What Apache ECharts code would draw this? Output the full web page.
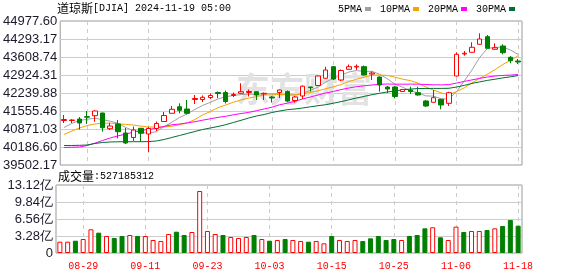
<!DOCTYPE html>
<html>
<head>
<meta charset="utf-8">
<title>道琼斯[DJIA]</title>
<script src="https://cdn.jsdelivr.net/npm/echarts@6/dist/echarts.min.js"></script>
<style>
html, body { margin: 0; padding: 0; background: #fff; }
#chart { width: 578px; height: 276px; }
</style>
</head>
<body>
<div id="chart"></div>
<script>
// 交易日
var dates = [
  '08-26','08-27','08-28','08-29','08-30','09-03','09-04','09-05','09-06','09-09',
  '09-10','09-11','09-12','09-13','09-16','09-17','09-18','09-19','09-20','09-23',
  '09-24','09-25','09-26','09-27','09-30','10-01','10-02','10-03','10-04','10-07',
  '10-08','10-09','10-10','10-11','10-14','10-15','10-16','10-17','10-18','10-21',
  '10-22','10-23','10-24','10-25','10-28','10-29','10-30','10-31','11-01','11-04',
  '11-05','11-06','11-07','11-08','11-11','11-12','11-13','11-14','11-15','11-18'
];

// K线
var opens = [41194,41194,41251,41340,41377,41479,40882,41061,40719,40548,
  40898,40681,40890,41156,41468,41719,41632,41993,41993,42069,
  42259,42259,42145,42229,42259,42289,42202,42088,42259,42297,
  41955,42126,42468,42525,42799,43240,42734,43141,43229,43240,
  42962,42848,42468,42468,42297,42354,42251,41936,41886,42000,
  41848,42886,43723,43787,44092,44381,43902,44027,43597,43457];
var closes = [41232,41213,41099,41320,41555,40920,40985,40768,40339,40833,
  40708,40890,41080,41384,41620,41580,41468,42031,42076,42145,
  42221,41917,42183,42289,42297,42164,42229,42050,42354,41936,
  42088,42500,42441,42886,43114,42772,43095,43240,43255,42924,
  43000,42544,42392,42107,42373,42297,42164,41746,42061,41784,
  42251,43711,43749,43978,44293,43940,43962,43772,43468,43419];
var lows = [41099,41099,40852,41061,41149,40768,40833,40517,40301,40415,
  40388,39997,40795,41149,41460,41468,41430,41822,41898,42012,
  42050,41841,42088,42209,42107,41974,41974,41879,42050,41898,
  41871,42012,42289,42506,42791,42734,42696,43133,43114,42905,
  42734,42289,42240,42038,42278,42202,42145,41708,41879,41620,
  41746,42867,43658,43780,44084,43932,43894,43711,43369,43343];
var highs = [41403,41240,41327,41555,41582,41491,41111,41213,40909,40966,
  40909,40947,41156,41517,41746,41848,41974,42164,42145,42221,
  42297,42335,42259,42609,42373,42297,42259,42126,42373,42335,
  42126,42525,42479,42905,43240,43267,43133,43324,43324,43286,
  43057,42867,42506,42506,42392,42479,42479,41974,42354,42012,
  42289,43787,43837,44168,44510,44445,44130,44092,43647,43533];

// 均线
var ma5 = [40928,41080,41194,41240,41282,41225,41168,41092,40932,40806,
  40746,40711,40772,40959,41126,41308,41441,41616,41768,41886,
  42012,42099,42145,42179,42194,42183,42217,42202,42209,42164,
  42168,42232,42339,42468,42658,42799,42913,43038,43092,43057,
  43065,42951,42784,42571,42457,42324,42244,42130,42122,42019,
  42008,42293,42696,43114,43590,43932,43978,43981,43875,43704];
var ma10 = [40662,40795,40909,41004,41061,41092,41092,41073,41046,41023,
  40978,40947,40943,40955,40974,41031,41099,41232,41403,41536,
  41681,41784,41890,41978,42046,42103,42164,42164,42187,42171,
  42164,42221,42255,42324,42403,42476,42563,42677,42761,42844,
  42917,42924,42909,42841,42765,42711,42613,42468,42350,42244,
  42179,42293,42434,42624,42799,42955,43130,43324,43479,43654];
var ma20 = [40168,40175,40187,40244,40331,40434,40529,40609,40677,40753,
  40818,40852,40905,40970,41031,41061,41103,41149,41206,41259,
  41312,41354,41411,41460,41502,41567,41632,41700,41791,41852,
  41924,42012,42088,42164,42240,42297,42369,42430,42479,42514,
  42544,42571,42582,42575,42575,42578,42575,42563,42552,42548,
  42559,42616,42681,42738,42795,42848,42886,42909,42921,42943];
var ma30 = [40244,40244,40251,40263,40320,40358,40377,40384,40388,40388,
  40388,40392,40415,40472,40548,40624,40700,40776,40852,40909,
  40966,41035,41118,41202,41289,41365,41422,41498,41555,41605,
  41632,41670,41715,41757,41795,41852,41913,41978,42050,42111,
  42175,42229,42278,42320,42362,42388,42411,42411,42415,42415,
  42419,42468,42529,42605,42662,42719,42765,42814,42856,42902];

// 成交量（亿）及涨跌
var volumes = [2.18,2.18,2.37,2.70,4.57,3.92,3.28,2.89,3.28,3.47,
  3.28,3.28,2.51,2.32,3.67,4.11,3.47,4.05,11.96,4.25,
  3.67,3.47,3.09,2.89,3.09,3.47,2.70,2.37,2.51,2.70,
  2.51,2.32,2.18,2.32,1.87,3.28,2.51,2.32,2.51,2.32,
  2.83,3.28,2.51,2.70,2.51,3.28,3.47,4.76,4.96,3.03,
  2.51,5.08,4.05,4.25,4.25,4.44,4.76,5.21,6.37,5.27];
var volUp = [1,1,0,1,1,0,1,0,0,1,0,1,1,1,1,0,0,1,1,1,1,0,1,1,1,0,1,0,1,0,
  1,1,0,1,1,0,1,1,1,0,0,0,0,0,1,0,0,0,1,0,1,1,0,1,1,0,1,0,0,0];

var priceMin = 39502.17, priceMax = 44977.60;
var volMax = 13.12, volStep = 3.28;
var lastVolume = '527185312';

var RED = '#ff0000', GREEN = '#008000';
var mono = '"Liberation Mono", "DejaVu Sans Mono", monospace';
var cjk = '"Noto Sans CJK SC", sans-serif';
var axisFont = '"Liberation Sans", Arial, sans-serif';
var showIdx = function (i) { return (i - 3) % 8 === 0; };

var kData = opens.map(function (o, i) { return [o, closes[i], lows[i], highs[i]]; });
var volData = volumes.map(function (v, i) {
  return {
    value: v,
    itemStyle: volUp[i]
      ? { color: '#fff', borderColor: RED, borderWidth: 1 }
      : { color: GREEN, borderColor: GREEN, borderWidth: 1 }
  };
});

function maLine(name, data, color) {
  return {
    name: name, type: 'line', data: data, symbol: 'none',
    xAxisIndex: 0, yAxisIndex: 0, z: 2,
    lineStyle: { width: 1, color: color }, itemStyle: { color: color }
  };
}

var titleRich = {
  c: { fontFamily: cjk, fontSize: 12, fontWeight: 'normal', color: '#000' },
  a: { fontFamily: mono, fontSize: 10, fontWeight: 'normal', color: '#000' }
};

var chart = echarts.init(document.getElementById('chart'));
chart.setOption({
  animation: false,
  backgroundColor: '#fff',
  title: [
    { text: '{c|道琼斯}{a|[DJIA] 2024-11-19 05:00}', left: 57, top: 2, padding: 0,
      textStyle: { fontWeight: 'normal', rich: titleRich } },
    { text: '{c|成交量}{a|:' + lastVolume + '}', left: 58, top: 170, padding: 0,
      textStyle: { fontWeight: 'normal', rich: titleRich } }
  ],
  legend: {
    data: ['5PMA', '10PMA', '20PMA', '30PMA'],
    left: 338, top: 4, padding: 0,
    align: 'right', icon: 'rect', itemWidth: 6, itemHeight: 4, itemGap: 9,
    selectedMode: false,
    textStyle: { fontFamily: mono, fontSize: 10, color: '#000', padding: [0, -2, 0, 0] }
  },
  graphic: [{
    type: 'text', left: 236, top: 72, z: 1, silent: true,
    style: { text: '东方财富', fill: '#e2e2e2', font: 'bold 34px "Noto Sans CJK SC"' }
  }],
  grid: [
    { left: 56, top: 21, width: 466, height: 144, show: true, borderColor: '#999', borderWidth: 1 },
    { left: 56, top: 185, width: 466, height: 68, show: true, borderColor: '#999', borderWidth: 1 }
  ],
  xAxis: [
    { type: 'category', gridIndex: 0, data: dates, boundaryGap: true,
      axisLine: { show: false }, axisTick: { show: false }, axisLabel: { show: false },
      splitLine: { show: true, interval: showIdx, alignWithLabel: true,
        lineStyle: { color: '#ccc', type: [4, 4] } } },
    { type: 'category', gridIndex: 1, data: dates, boundaryGap: true,
      axisLine: { show: false }, axisTick: { show: false },
      axisLabel: { show: true, interval: showIdx, color: RED, fontFamily: mono, fontSize: 10, margin: 8 },
      splitLine: { show: true, interval: showIdx, alignWithLabel: true,
        lineStyle: { color: '#ccc', type: [4, 4] } } }
  ],
  yAxis: [
    { type: 'value', gridIndex: 0, min: priceMin, max: priceMax, interval: (priceMax - priceMin) / 8,
      axisLine: { show: false }, axisTick: { show: false },
      axisLabel: { color: '#1a1a2a', fontFamily: axisFont, fontSize: 13, margin: 3,
        formatter: function (v) { return (v - 1e-6).toFixed(2); } },
      splitLine: { lineStyle: { color: '#ccc' } } },
    { type: 'value', gridIndex: 1, min: 0, max: volMax, interval: volStep,
      axisLine: { show: false }, axisTick: { show: false },
      axisLabel: { color: '#1a1a2a', fontFamily: axisFont, fontSize: 13, margin: 3,
        formatter: function (v) { return v === 0 ? '0' : v.toFixed(2) + '亿'; } },
      splitLine: { lineStyle: { color: '#ccc' } } }
  ],
  series: [
    maLine('5PMA', ma5, '#a0a0a0'),
    maLine('10PMA', ma10, '#f5a300'),
    maLine('20PMA', ma20, '#ff00ff'),
    maLine('30PMA', ma30, '#006f33'),
    { name: 'K', type: 'candlestick', data: kData, xAxisIndex: 0, yAxisIndex: 0, z: 3,
      barWidth: 5,
      itemStyle: { color: '#fff', color0: GREEN, borderColor: RED, borderColor0: GREEN, borderWidth: 1 } },
    { name: '成交量', type: 'bar', data: volData, xAxisIndex: 1, yAxisIndex: 1, barWidth: 5 }
  ]
});
</script>
</body>
</html>
